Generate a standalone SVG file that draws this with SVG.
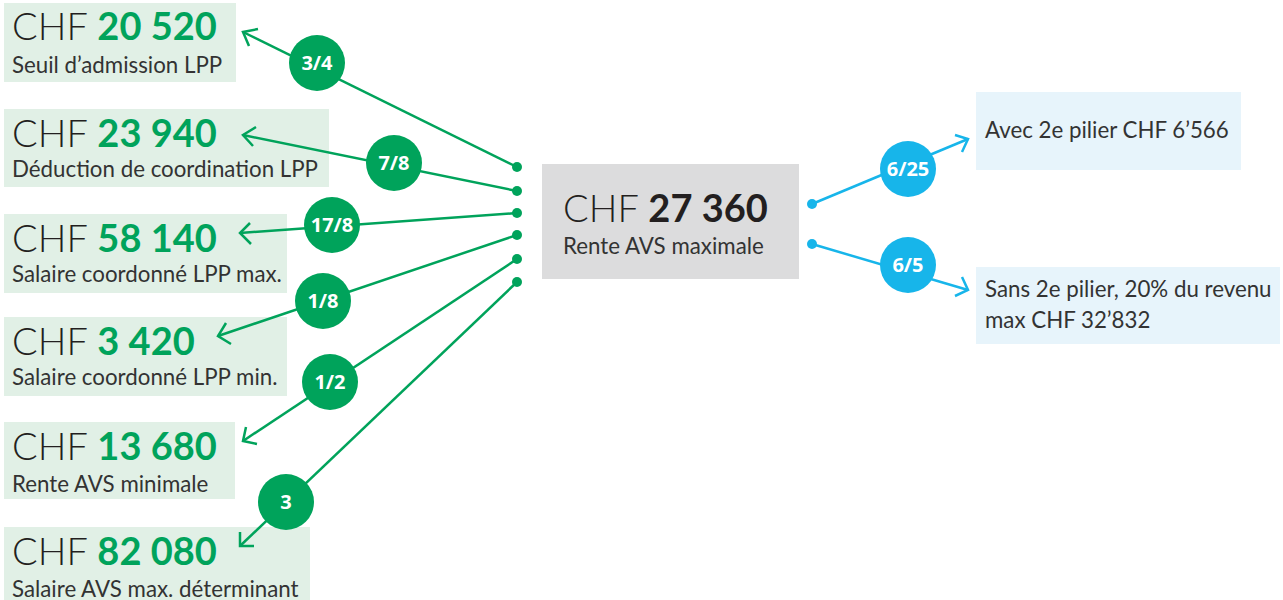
<svg xmlns="http://www.w3.org/2000/svg" width="1283" height="600" viewBox="0 0 1283 600">
<defs>
<style>
.gbox{fill:#e1f0e6}
.bbox{fill:#e7f4fb}
.cbox{fill:#dcdcdd}
.big{font-family:Lato,"Open Sans","Liberation Sans",sans-serif;font-size:38px;fill:#231f20;font-weight:300}
.num{fill:#00a35b;font-weight:700}
.numk{fill:#231f20;font-weight:700}
.sub{font-family:Lato,"Open Sans","Liberation Sans",sans-serif;font-size:22.3px;fill:#333;font-weight:400}
.gl{stroke:#00a35b;stroke-width:2.5;fill:none}
.bl{stroke:#17b5ea;stroke-width:2.5;fill:none}
.gc{fill:#00a35b}
.bc{fill:#17b5ea}
.lbl{font-family:"Open Sans","Liberation Sans",sans-serif;font-size:20px;font-weight:700;fill:#fff;text-anchor:middle}
</style>
</defs>
<g id="n1"><rect class="gbox" x="4" y="3" width="232" height="79"/><text class="big" x="12" y="40">CHF <tspan class="num">20 520</tspan></text><text class="sub" x="12" y="73">Seuil d’admission LPP</text></g>
<g id="n2"><rect class="gbox" x="4" y="109" width="325" height="78"/><text class="big" x="12" y="147">CHF <tspan class="num">23 940</tspan></text><text class="sub" x="12" y="177">Déduction de coordination LPP</text></g>
<g id="n3"><rect class="gbox" x="4" y="214" width="283" height="79"/><text class="big" x="12" y="252">CHF <tspan class="num">58 140</tspan></text><text class="sub" x="12" y="282">Salaire coordonné LPP max.</text></g>
<g id="n4"><rect class="gbox" x="4" y="317" width="283" height="79"/><text class="big" x="12" y="355">CHF <tspan class="num">3 420</tspan></text><text class="sub" x="12" y="385">Salaire coordonné LPP min.</text></g>
<g id="n5"><rect class="gbox" x="4" y="422" width="231" height="77"/><text class="big" x="12" y="460">CHF <tspan class="num">13 680</tspan></text><text class="sub" x="12" y="492">Rente AVS minimale</text></g>
<g id="n6"><rect class="gbox" x="4" y="527" width="306" height="73"/><text class="big" x="12" y="565">CHF <tspan class="num">82 080</tspan></text><text class="sub" x="12" y="597">Salaire AVS max. déterminant</text></g>
<g id="center"><rect class="cbox" x="542" y="164" width="257" height="115"/><text class="big" x="563" y="222">CHF <tspan class="numk">27 360</tspan></text><text class="sub" x="563" y="254">Rente AVS maximale</text></g>
<g id="avec"><rect class="bbox" x="976" y="92" width="265" height="78"/><text class="sub" x="985" y="138">Avec 2e pilier CHF 6’566</text></g>
<g id="sans"><rect class="bbox" x="976" y="267" width="304" height="77"/><text class="sub" x="985" y="297">Sans 2e pilier, 20% du revenu</text><text class="sub" x="985" y="328">max CHF 32’832</text></g>
<g id="connectors">
<line class="gl" x1="517" y1="167" x2="243" y2="32"/>
<polyline class="gl" points="249,46 243,32 258,29"/>
<line class="gl" x1="517" y1="191" x2="243" y2="135"/>
<polyline class="gl" points="253,146 243,135 256,127"/>
<line class="gl" x1="517" y1="213" x2="240" y2="233"/>
<polyline class="gl" points="251,244 240,233 250,223"/>
<line class="gl" x1="517" y1="235" x2="218" y2="336"/>
<polyline class="gl" points="231,344 218,336 226,323"/>
<line class="gl" x1="517" y1="259" x2="243" y2="441"/>
<polyline class="gl" points="257,444 243,441 246,427"/>
<line class="gl" x1="517" y1="282" x2="240" y2="546"/>
<polyline class="gl" points="254,546 240,546 240,532"/>
<circle class="gc" cx="517" cy="167" r="5"/>
<circle class="gc" cx="517" cy="191" r="5"/>
<circle class="gc" cx="517" cy="213" r="5"/>
<circle class="gc" cx="517" cy="235" r="5"/>
<circle class="gc" cx="517" cy="259" r="5"/>
<circle class="gc" cx="517" cy="282" r="5"/>
<line class="bl" x1="812" y1="204" x2="968" y2="139"/>
<polyline class="bl" points="955,135 968,139 962,152"/>
<line class="bl" x1="812" y1="244" x2="968" y2="290"/>
<polyline class="bl" points="962,277 968,290 955,296"/>
<circle class="bc" cx="812" cy="204" r="5"/>
<circle class="bc" cx="812" cy="244" r="5"/>
<g id="badges">
<circle class="gc" cx="317" cy="63" r="28"/><text class="lbl" x="317" y="70">3/4</text>
<circle class="gc" cx="394" cy="163" r="28"/><text class="lbl" x="394" y="170">7/8</text>
<circle class="gc" cx="332" cy="225" r="28"/><text class="lbl" x="332" y="232">17/8</text>
<circle class="gc" cx="323" cy="301" r="28"/><text class="lbl" x="323" y="308">1/8</text>
<circle class="gc" cx="330" cy="382" r="28"/><text class="lbl" x="330" y="389">1/2</text>
<circle class="gc" cx="286" cy="502" r="28"/><text class="lbl" x="286" y="509">3</text>
<circle class="bc" cx="908" cy="169" r="28"/><text class="lbl" x="908" y="176">6/25</text>
<circle class="bc" cx="908" cy="265" r="28"/><text class="lbl" x="908" y="272">6/5</text>
</g>
</g>
</svg>
